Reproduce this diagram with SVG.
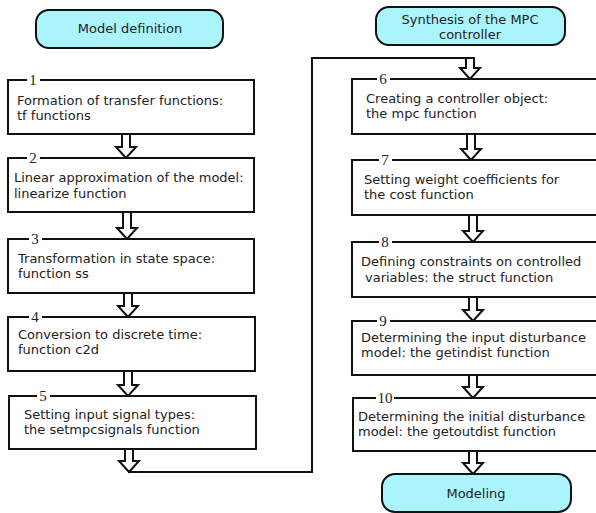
<svg xmlns="http://www.w3.org/2000/svg" width="596" height="513" viewBox="0 0 596 513">
<defs>
<style>
.box{fill:#fff;stroke:#111;stroke-width:2}
.hdr{fill:#aaf4fb;stroke:#111;stroke-width:2}
.t{font-family:"DejaVu Sans",sans-serif;font-size:13px;fill:#222}
.c{text-anchor:middle}
.num{font-family:"Liberation Serif",serif;font-size:15px;fill:#222;text-anchor:middle}
.gap{fill:#fff}
.arr{fill:#fff;stroke:#111;stroke-width:2;stroke-linejoin:miter}
.line{fill:none;stroke:#111;stroke-width:2}
</style>
</defs>
<rect width="596" height="513" fill="#fff"/>
<g id="connectors">
<polyline class="line" points="128,472 312,472 312,58 470,58"/>
<polygon class="arr" points="122,134 130,134 130,147 136,147 126,158 116,147 122,147"/>
<polygon class="arr" points="123,212 131,212 131,228 137,228 127,239 117,228 123,228"/>
<polygon class="arr" points="124,293 132,293 132,306 138,306 128,317 118,306 124,306"/>
<polygon class="arr" points="124,371 132,371 132,385 138,385 128,396 118,385 124,385"/>
<polygon class="arr" points="125,449 133,449 133,461 139,461 129,472 119,461 125,461"/>
<polygon class="arr" points="466,58 474,58 474,68 480,68 470,79 460,68 466,68"/>
<polygon class="arr" points="467,134 475,134 475,149 481,149 471,160 461,149 467,149"/>
<polygon class="arr" points="469,215 477,215 477,231 483,231 473,242 463,231 469,231"/>
<polygon class="arr" points="469,297 477,297 477,310 483,310 473,321 463,310 469,310"/>
<polygon class="arr" points="469,375 477,375 477,387 483,387 473,398 463,387 469,387"/>
<polygon class="arr" points="469,451 477,451 477,463 483,463 473,474 463,463 469,463"/>
</g>
<g id="hdr1">
<rect class="hdr" x="36" y="10" width="187" height="38" rx="13"/>
<text class="t c" x="130" y="33">Model definition</text>
</g>
<g id="hdr2">
<rect class="hdr" x="376" y="7" width="189" height="38" rx="13"/>
<text class="t c" x="470" y="24">Synthesis of the MPC</text>
<text class="t c" x="470" y="39">controller</text>
</g>
<g id="hdr3">
<rect class="hdr" x="382" y="474" width="189" height="38" rx="13"/>
<text class="t c" x="476" y="498">Modeling</text>
</g>
<g id="n1">
<rect class="box" x="8" y="80" width="246" height="54"/>
<rect class="gap" x="27" y="77" width="13" height="6"/>
<text class="num" x="33" y="85">1</text>
<text class="t" x="17" y="105">Formation of transfer functions:</text>
<text class="t" x="17" y="120">tf functions</text>
</g>
<g id="n2">
<rect class="box" x="8" y="158" width="246" height="54"/>
<rect class="gap" x="27" y="155" width="13" height="6"/>
<text class="num" x="33" y="163">2</text>
<text class="t" x="14" y="182">Linear approximation of the model:</text>
<text class="t" x="14" y="198">linearize function</text>
</g>
<g id="n3">
<rect class="box" x="8" y="239" width="246" height="54"/>
<rect class="gap" x="29" y="236" width="13" height="6"/>
<text class="num" x="35" y="244">3</text>
<text class="t" x="18" y="263">Transformation in state space:</text>
<text class="t" x="18" y="278">function ss</text>
</g>
<g id="n4">
<rect class="box" x="8" y="317" width="247" height="54"/>
<rect class="gap" x="29" y="314" width="13" height="6"/>
<text class="num" x="35" y="322">4</text>
<text class="t" x="18" y="339">Conversion to discrete time:</text>
<text class="t" x="18" y="354">function c2d</text>
</g>
<g id="n5">
<rect class="box" x="9" y="396" width="247" height="53"/>
<rect class="gap" x="37" y="393" width="13" height="6"/>
<text class="num" x="43" y="401">5</text>
<text class="t" x="24" y="419">Setting input signal types:</text>
<text class="t" x="24" y="434">the setmpcsignals function</text>
</g>
<g id="n6">
<rect class="box" x="352" y="79" width="254" height="55"/>
<rect class="gap" x="377" y="76" width="13" height="6"/>
<text class="num" x="383" y="84">6</text>
<text class="t" x="366" y="103">Creating a controller object:</text>
<text class="t" x="366" y="118">the mpc function</text>
</g>
<g id="n7">
<rect class="box" x="352" y="160" width="254" height="55"/>
<rect class="gap" x="379" y="157" width="13" height="6"/>
<text class="num" x="385" y="165">7</text>
<text class="t" x="364" y="184">Setting weight coefficients for</text>
<text class="t" x="364" y="199">the cost function</text>
</g>
<g id="n8">
<rect class="box" x="352" y="242" width="254" height="55"/>
<rect class="gap" x="379" y="239" width="13" height="6"/>
<text class="num" x="385" y="247">8</text>
<text class="t" x="361" y="266">Defining constraints on controlled</text>
<text class="t" x="365" y="282">variables: the struct function</text>
</g>
<g id="n9">
<rect class="box" x="352" y="321" width="254" height="54"/>
<rect class="gap" x="377" y="318" width="13" height="6"/>
<text class="num" x="383" y="326">9</text>
<text class="t" x="361" y="342">Determining the input disturbance</text>
<text class="t" x="361" y="357">model: the getindist function</text>
</g>
<g id="n10">
<rect class="box" x="353" y="398" width="253" height="53"/>
<rect class="gap" x="376" y="395" width="18" height="6"/>
<text class="num" x="385" y="403">10</text>
<text class="t" x="358" y="421">Determining the initial disturbance</text>
<text class="t" x="358" y="436">model: the getoutdist function</text>
</g>
</svg>
